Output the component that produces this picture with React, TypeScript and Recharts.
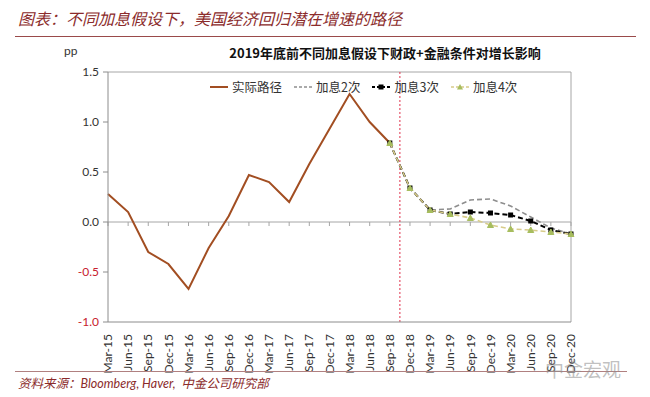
import React from "react";
import {
  LineChart,
  Line,
  XAxis,
  YAxis,
  ReferenceLine,
} from "recharts";

const quarters = [
  "Mar-15", "Jun-15", "Sep-15", "Dec-15", "Mar-16", "Jun-16", "Sep-16", "Dec-16",
  "Mar-17", "Jun-17", "Sep-17", "Dec-17", "Mar-18", "Jun-18", "Sep-18", "Dec-18",
  "Mar-19", "Jun-19", "Sep-19", "Dec-19", "Mar-20", "Jun-20", "Sep-20", "Dec-20",
];

// history, Mar-15 .. Sep-18
const actual = [0.28, 0.1, -0.3, -0.42, -0.67, -0.26, 0.06, 0.47, 0.4, 0.2, 0.58, 0.93, 1.28, 1.0, 0.79];
// scenarios, Sep-18 .. Dec-20
const hike2 = [0.79, 0.34, 0.12, 0.13, 0.22, 0.23, 0.16, 0.05, -0.06, -0.12];
const hike3 = [0.79, 0.34, 0.12, 0.08, 0.1, 0.09, 0.07, 0.01, -0.08, -0.12];
const hike4 = [0.79, 0.34, 0.12, 0.08, 0.04, -0.03, -0.07, -0.08, -0.1, -0.12];
const yTicks = [-1, -0.5, 0, 0.5, 1, 1.5];

const forecastStart = actual.length - 1;

const data = quarters.map((q, i) => {
  const j = i - forecastStart;
  return {
    i,
    q,
    actual: i < actual.length ? actual[i] : null,
    hike2: j >= 0 ? hike2[j] : null,
    hike3: j >= 0 ? hike3[j] : null,
    hike4: j >= 0 ? hike4[j] : null,
  };
});

const CN = '"Noto Sans CJK SC", sans-serif';
const LAT = 'Lato, "Open Sans", sans-serif';
const DARKRED = "#8B2B2B";

const BROWN = "#A24E22";
const GRAY = "#8E8E8E";
const BLACK = "#000000";
const BEIGE = "#D8CC8A";
const OLIVE = "#A7BD5E";

const XTick = (props: any) => {
  const { x, y, payload } = props;
  return (
    <text
      x={x}
      y={y + 4}
      transform={`rotate(-90, ${x}, ${y + 4})`}
      textAnchor="end"
      dy="0.35em"
      fontSize={12}
      fontFamily={LAT}
      fill="#333"
    >
      {quarters[payload.value]}
    </text>
  );
};

const YTick = (props: any) => {
  const { x, y, payload } = props;
  return (
    <text
      x={x}
      y={y}
      textAnchor="end"
      dy="0.35em"
      fontSize={12}
      fontFamily={LAT}
      fill={payload.value < 0 ? "#C8202E" : "#333"}
    >
      {payload.value.toFixed(1)}
    </text>
  );
};

const SquareDot = (props: any) => {
  const { cx, cy, value, index } = props;
  if (value == null || cx == null) return <g key={index} />;
  return <rect key={index} x={cx - 2.5} y={cy - 2.5} width={5} height={5} fill={BLACK} />;
};

const TriDot = (props: any) => {
  const { cx, cy, value, index } = props;
  if (value == null || cx == null) return <g key={index} />;
  return (
    <polygon
      key={index}
      points={`${cx},${cy - 3} ${cx - 3},${cy + 2.5} ${cx + 3},${cy + 2.5}`}
      fill={OLIVE}
      stroke={OLIVE}
    />
  );
};

const legendItems = [
  { label: "实际路径", color: BROWN, dash: undefined, marker: null, w: 2 },
  { label: "加息2次", color: GRAY, dash: "3 2", marker: null, w: 1.5 },
  { label: "加息3次", color: BLACK, dash: "3 2", marker: "square", w: 2 },
  { label: "加息4次", color: BEIGE, dash: "3 2", marker: "tri", w: 1.5 },
];

const ChartLegend = () => (
  <div
    style={{
      position: "absolute",
      left: 210,
      top: 77,
      display: "flex",
      alignItems: "center",
      fontFamily: CN,
      fontSize: 12.5,
      color: "#333",
      whiteSpace: "nowrap",
    }}
  >
    {legendItems.map((it) => (
      <div key={it.label} style={{ display: "flex", alignItems: "center", marginRight: 12 }}>
        <svg width={18} height={10} style={{ marginRight: 4 }}>
          <line x1={0} y1={5} x2={18} y2={5} stroke={it.color} strokeWidth={it.w} strokeDasharray={it.dash} />
          {it.marker === "square" && <rect x={6.5} y={2.5} width={5} height={5} fill={BLACK} />}
          {it.marker === "tri" && <polygon points="9,2 6,7.5 12,7.5" fill={OLIVE} />}
        </svg>
        <span>{it.label}</span>
      </div>
    ))}
  </div>
);

export default function App() {
  return (
    <div style={{ position: "absolute", left: 0, top: 0, width: 650, height: 397, background: "#fff" }}>
      <div
        style={{
          position: "absolute",
          left: 18,
          top: 6,
          fontFamily: CN,
          fontStyle: "italic",
          fontSize: 16,
          color: DARKRED,
          whiteSpace: "nowrap",
        }}
      >
        图表：不同加息假设下，美国经济回归潜在增速的路径
      </div>
      <div style={{ position: "absolute", left: 15, top: 36, width: 621, height: 1, background: "#9A4A4A" }} />
      <div style={{ position: "absolute", left: 64, top: 43, fontFamily: LAT, fontSize: 12, color: "#333" }}>pp</div>
      <div
        style={{
          position: "absolute",
          left: 170,
          width: 430,
          top: 43,
          textAlign: "center",
          fontFamily: CN,
          fontWeight: 700,
          fontSize: 13,
          color: "#111",
        }}
      >
        2019年底前不同加息假设下财政+金融条件对增长影响
      </div>

      <LineChart width={650} height={397} data={data} margin={{ top: 72, right: 79, left: 0, bottom: 0 }}>
        <XAxis
          dataKey="i"
          type="number"
          domain={[0, 23]}
          ticks={data.map((d) => d.i)}
          interval={0}
          height={75}
          tick={<XTick />}
          tickLine={false}
          axisLine={{ stroke: "#8C8C8C" }}
        />
        <YAxis
          domain={[-1, 1.5]}
          ticks={yTicks}
          width={108}
          tick={<YTick />}
          tickSize={5}
          tickMargin={4}
          tickLine={{ stroke: "#8C8C8C" }}
          axisLine={{ stroke: "#8C8C8C" }}
        />
        <ReferenceLine y={1.5} stroke="#A6A6A6" />
        <ReferenceLine x={23} stroke="#A6A6A6" />
        <ReferenceLine y={0} stroke="#A6A6A6" />
        {data.map((d) => (
          <ReferenceLine
            key={"t" + d.i}
            segment={[
              { x: d.i, y: 0 },
              { x: d.i, y: -0.04 },
            ]}
            stroke="#A6A6A6"
          />
        ))}
        <ReferenceLine x={forecastStart + 0.5} stroke="#E0304A" strokeDasharray="2 2" />
        <Line
          dataKey="actual"
          stroke={BROWN}
          strokeWidth={2}
          dot={false}
          isAnimationActive={false}
          connectNulls={false}
        />
        <Line
          dataKey="hike2"
          stroke={GRAY}
          strokeWidth={1.6}
          strokeDasharray="5 3"
          dot={false}
          isAnimationActive={false}
        />
        <Line
          dataKey="hike3"
          stroke={BLACK}
          strokeWidth={2}
          strokeDasharray="5 3"
          dot={<SquareDot />}
          isAnimationActive={false}
        />
        <Line
          dataKey="hike4"
          stroke={BEIGE}
          strokeWidth={1.6}
          strokeDasharray="5 3"
          dot={<TriDot />}
          isAnimationActive={false}
        />
      </LineChart>
      <ChartLegend />

      <div style={{ position: "absolute", left: 15, top: 371, width: 612, height: 1, background: "#B08080" }} />
      <div
        style={{
          position: "absolute",
          left: 18,
          top: 373,
          fontFamily: CN,
          fontStyle: "italic",
          fontSize: 12.5,
          color: DARKRED,
          whiteSpace: "nowrap",
        }}
      >
        资料来源：<span style={{ fontFamily: LAT }}>Bloomberg, Haver,</span>&nbsp; 中金公司研究部
      </div>
      <div
        style={{
          position: "absolute",
          left: 545,
          top: 355,
          fontFamily: CN,
          fontSize: 19,
          color: "rgba(140,140,140,0.55)",
          whiteSpace: "nowrap",
        }}
      >
        中金宏观
      </div>
    </div>
  );
}
